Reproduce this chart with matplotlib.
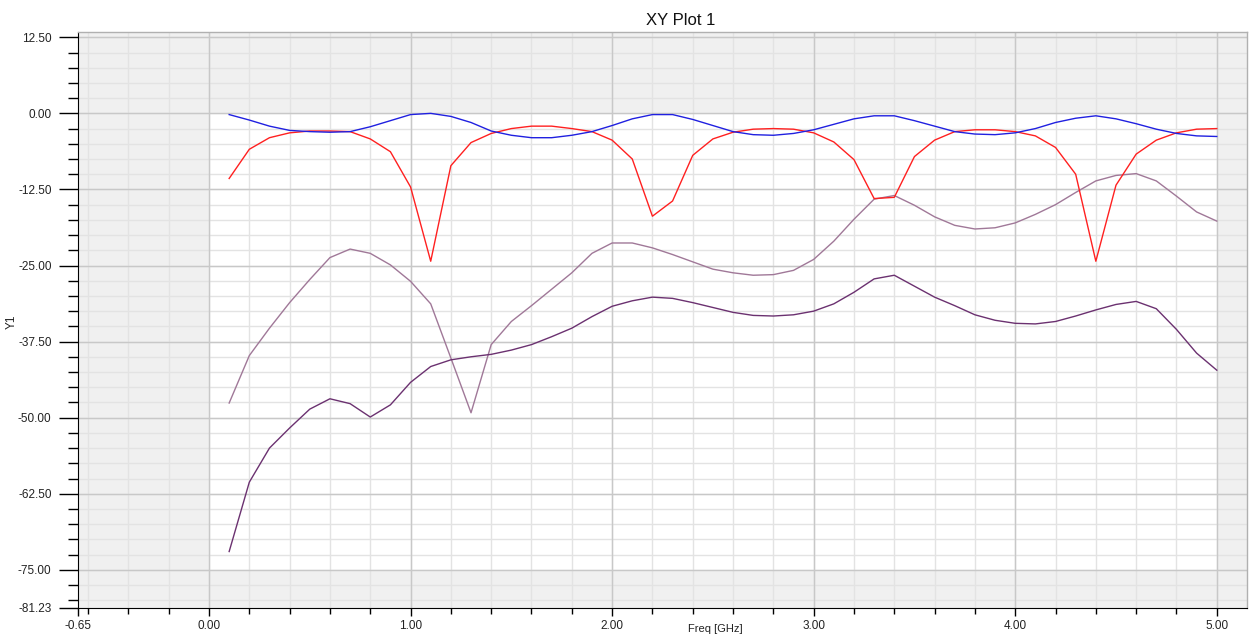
import numpy as np
import matplotlib
matplotlib.use("Agg")
import matplotlib.pyplot as plt
from matplotlib.ticker import MultipleLocator, FixedLocator

plt.rcParams["font.family"] = ["Liberation Sans", "DejaVu Sans"]

# frequency points, GHz
freq = [0.1, 0.2, 0.3, 0.4, 0.5, 0.6, 0.7, 0.8, 0.9, 1.0,
        1.1, 1.2, 1.3, 1.4, 1.5, 1.6, 1.7, 1.8, 1.9, 2.0,
        2.1, 2.2, 2.3, 2.4, 2.5, 2.6, 2.7, 2.8, 2.9, 3.0,
        3.1, 3.2, 3.3, 3.4, 3.5, 3.6, 3.7, 3.8, 3.9, 4.0,
        4.1, 4.2, 4.3, 4.4, 4.5, 4.6, 4.7, 4.8, 4.9, 5.0]

blue = [-0.2, -1.1, -2.1, -2.8, -3.0, -3.1, -3.0, -2.2, -1.2, -0.2,
        0.0, -0.5, -1.5, -2.9, -3.6, -4.0, -4.0, -3.6, -3.0, -2.0,
        -0.9, -0.2, -0.2, -1.0, -2.0, -3.0, -3.5, -3.6, -3.3, -2.7,
        -1.8, -0.9, -0.4, -0.4, -1.2, -2.1, -3.0, -3.4, -3.5, -3.2,
        -2.5, -1.5, -0.8, -0.4, -0.9, -1.7, -2.6, -3.3, -3.7, -3.8]

red = [-10.7, -5.9, -4.0, -3.2, -2.9, -2.9, -3.0, -4.2, -6.3, -12.1,
       -24.3, -8.6, -4.8, -3.3, -2.5, -2.1, -2.1, -2.5, -3.0, -4.4,
       -7.5, -16.9, -14.4, -6.9, -4.2, -3.1, -2.6, -2.5, -2.6, -3.2,
       -4.7, -7.6, -14.0, -13.8, -7.1, -4.4, -3.0, -2.7, -2.7, -3.0,
       -3.7, -5.6, -10.0, -24.3, -11.8, -6.7, -4.4, -3.2, -2.6, -2.5]

mauve = [-47.6, -39.8, -35.3, -31.1, -27.3, -23.7, -22.3, -23.0, -24.9, -27.6,
         -31.3, -40.2, -49.2, -38.0, -34.2, -31.6, -28.9, -26.2, -23.0, -21.3,
         -21.3, -22.1, -23.2, -24.4, -25.6, -26.2, -26.6, -26.5, -25.8, -24.0,
         -21.0, -17.4, -14.1, -13.5, -15.1, -17.0, -18.4, -19.0, -18.8, -18.0,
         -16.6, -15.0, -13.0, -11.1, -10.2, -9.9, -11.1, -13.6, -16.2, -17.7]

dark = [-72.0, -60.6, -55.0, -51.7, -48.6, -46.9, -47.7, -49.9, -47.9, -44.2,
        -41.6, -40.5, -40.0, -39.6, -38.9, -38.0, -36.7, -35.3, -33.4, -31.7,
        -30.8, -30.2, -30.4, -31.1, -31.9, -32.7, -33.2, -33.3, -33.1, -32.5,
        -31.3, -29.4, -27.2, -26.6, -28.4, -30.2, -31.6, -33.1, -34.0, -34.5,
        -34.6, -34.2, -33.3, -32.3, -31.4, -30.9, -32.1, -35.5, -39.4, -42.2]

x_ticks = [-0.65, 0.0, 1.0, 2.0, 3.0, 4.0, 5.0]
y_ticks = [12.5, 0.0, -12.5, -25.0, -37.5, -50.0, -62.5, -75.0, -81.23]

fig = plt.figure(figsize=(12.52, 6.35), dpi=100)
ax = fig.add_axes([78 / 1252, 1 - 607.7 / 635, 1169 / 1252, 575.4 / 635])

xmin, xmax = -0.65, 5.15
ymin, ymax = -81.23, 13.32
ax.set_xlim(xmin, xmax)
ax.set_ylim(ymin, ymax)

# gray band outside the data range
ax.set_facecolor("#f0f0f0")
ax.axvspan(0, 5, ymin=(-75 - ymin) / (ymax - ymin), ymax=(0 - ymin) / (ymax - ymin),
           color="white", zorder=0)

# grid
ax.xaxis.set_major_locator(FixedLocator(x_ticks))
ax.xaxis.set_minor_locator(MultipleLocator(0.2))
ax.yaxis.set_major_locator(FixedLocator(y_ticks))
ax.yaxis.set_minor_locator(MultipleLocator(2.5))
ax.xaxis.set_major_formatter(lambda v, p: f"{v:.2f}")
ax.yaxis.set_major_formatter(lambda v, p: f"{v:.2f}")
for v in np.arange(-0.6, 5.2, 0.2):
    ax.axvline(v, color="#e3e3e3", lw=1, zorder=1)
for v in np.arange(-80, 13, 2.5):
    ax.axhline(v, color="#e3e3e3", lw=1, zorder=1)
for v in [0, 1, 2, 3, 4, 5]:
    ax.axvline(v, color="#c8c8c8", lw=1, zorder=1)
for v in [12.5, 0, -12.5, -25, -37.5, -50, -62.5, -75]:
    ax.axhline(v, color="#c8c8c8", lw=1, zorder=1)

ax.plot(freq, mauve, color="#a07898", lw=1.0, zorder=3)
ax.plot(freq, dark, color="#6b3170", lw=1.0, zorder=3)
ax.plot(freq, red, color="#ff2020", lw=1.0, zorder=4)
ax.plot(freq, blue, color="#2020e0", lw=1.0, zorder=4)

for s in ["top", "right"]:
    ax.spines[s].set_color("#b0b0b0")
    ax.spines[s].set_linewidth(1)
ax.spines["left"].set_color("black")
ax.spines["bottom"].set_color("black")

ax.tick_params(axis="y", which="major", length=14, width=1, labelsize=8.5,
               labelcolor="#222222", pad=5)
ax.tick_params(axis="y", which="minor", length=7, width=1)
ax.tick_params(axis="x", which="major", length=6, width=1, labelsize=8.5,
               labelcolor="#222222", pad=3)
ax.tick_params(axis="x", which="minor", length=4, width=1)

fig.text(681 / 1252, 1 - 25 / 635, "XY Plot 1", ha="center", va="baseline",
         fontsize=12, color="#111111")
fig.text(715 / 1252, 1 / 635, "Freq [GHz]", ha="center", va="bottom",
         fontsize=8, color="#222222")
fig.text(12 / 1252, 1 - 322 / 635, "Y1", ha="center", va="center",
         rotation=90, fontsize=8.5, color="#222222")

fig.savefig("out.png", dpi=100)
